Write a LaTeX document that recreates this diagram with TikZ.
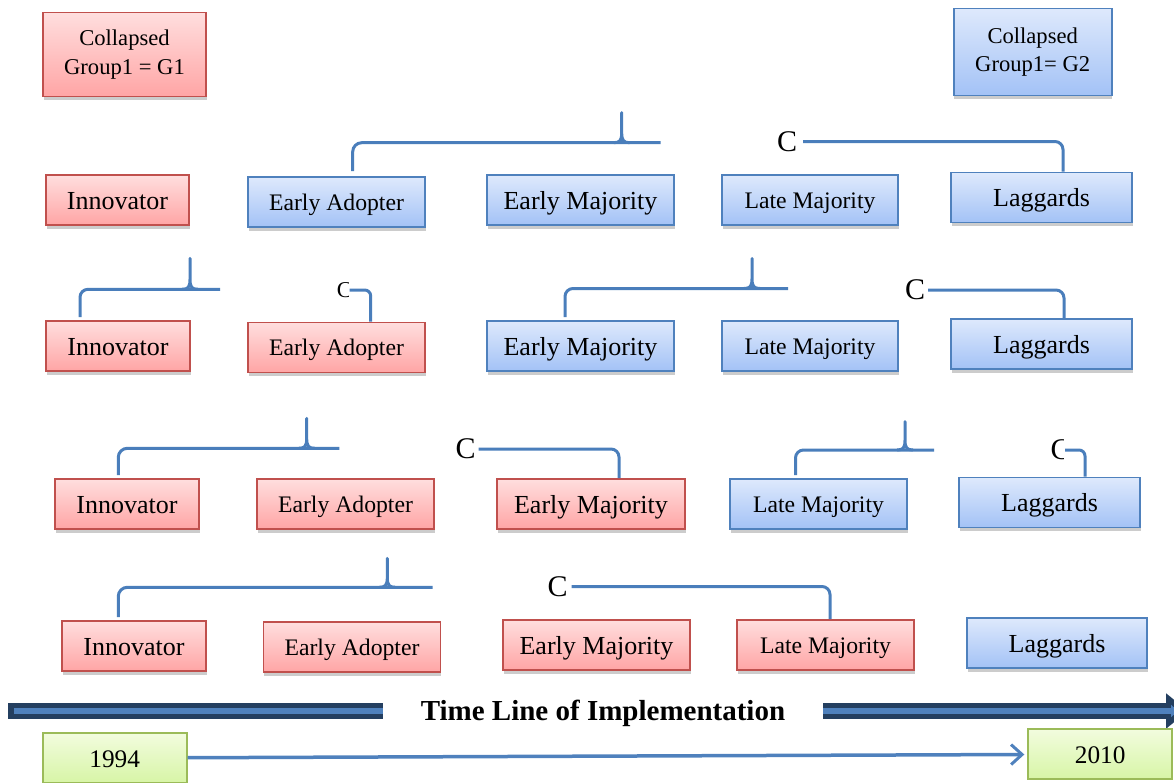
\documentclass[tikz,border=0pt]{standalone}
\usepackage{fontspec}
\setmainfont{Liberation Serif}
\usetikzlibrary{shadows,arrows.meta}

\definecolor{redline}{HTML}{C0504D}
\definecolor{redtop}{RGB}{255,222,222}
\definecolor{redbot}{RGB}{255,165,165}
\definecolor{blueline}{HTML}{4F81BD}
\definecolor{bluetop}{RGB}{222,233,252}
\definecolor{bluebot}{RGB}{163,194,246}
\definecolor{greenline}{HTML}{9BBB59}
\definecolor{greentop}{RGB}{242,252,222}
\definecolor{greenbot}{RGB}{215,245,166}
\definecolor{bracecol}{HTML}{4A7EBB}
\definecolor{bandnavy}{HTML}{243F60}
\definecolor{bandlight}{HTML}{4F81BD}

% type sizes (1pt = 1 unit of the grid)
\newcommand\fsBig{\fontsize{26}{30}\selectfont}
\newcommand\fsMid{\fontsize{23.7}{28}\selectfont}
\newcommand\fsGroup{\fontsize{22.6}{28.5}\selectfont}
\newcommand\fsMark{\fontsize{30}{32}\selectfont}
\newcommand\fsMarkSmall{\fontsize{22.6}{24}\selectfont}
\newcommand\fsTitle{\fontsize{29}{32}\selectfont}
\newcommand\fsYear{\fontsize{25.3}{28}\selectfont}

% upward tip of a horizontal brace: x, bar level, tip level
\newcommand{\bracetip}[3]{%
  \draw[brace] (#1-8,#2) .. controls (#1-2,#2) and (#1,#2-2) .. (#1,#2-10)
    -- (#1,#3) -- (#1,#2-10) .. controls (#1,#2-2) and (#1+2,#2) .. (#1+8,#2);}

\begin{document}
\begin{tikzpicture}[x=1pt,y=-1pt,
  stage/.style={line width=1.8pt, inner sep=0pt, minimum height=50pt,
    general shadow={fill=black!20, shadow xshift=0.5pt, shadow yshift=-3.5pt}},
  adopt/.style={stage, draw=redline, top color=redtop, bottom color=redbot},
  waiting/.style={stage, draw=blueline, top color=bluetop, bottom color=bluebot},
  big/.style={font=\fsBig, text height=23.4pt, text depth=5.2pt},
  mid/.style={font=\fsMid, text height=21.3pt, text depth=4.7pt},
  group/.style={font=\fsGroup, align=center, minimum height=84pt},
  yearbox/.style={line width=1.8pt, inner sep=0pt, minimum height=50pt,
    draw=greenline, top color=greentop, bottom color=greenbot, font=\fsYear,
    text height=23.8pt, text depth=5.1pt},
  brace/.style={draw=bracecol, line width=3pt, line join=round},
  cmark/.style={font=\fsMark, inner sep=0pt},
  yearline/.style={draw=bandlight, line width=3.5pt,
    -{Straight Barb[length=11pt,width=20pt,line width=3pt]}, shorten >=3pt}
]
\useasboundingbox (0,0) rectangle (1174,782);

% collapsed groups
\node[adopt, group, minimum width=163pt] (g1) at (124.5,54.5) {Collapsed\\Group1 = G1};
\node[waiting, group, minimum width=158pt, minimum height=87pt] (g2) at (1032.7,52) {Collapsed\\Group1= G2};

% row 1
\node[adopt, big, minimum width=143pt] (r1inn) at (117.5,200) {Innovator};
\node[waiting, mid, minimum width=177pt] (r1ea) at (336.5,202) {Early Adopter};
\node[waiting, big, minimum width=187pt] (r1em) at (580.5,200) {Early Majority};
\node[waiting, mid, minimum width=176pt] (r1lm) at (810,200) {Late Majority};
\node[waiting, big, minimum width=181pt] (r1lg) at (1041.5,197.5) {Laggards};

% row 2
\node[adopt, big, minimum width=144pt] (r2inn) at (118,346) {Innovator};
\node[adopt, mid, minimum width=177pt] (r2ea) at (336.5,347.5) {Early Adopter};
\node[waiting, big, minimum width=187pt] (r2em) at (580.5,346) {Early Majority};
\node[waiting, mid, minimum width=176pt] (r2lm) at (810,346) {Late Majority};
\node[waiting, big, minimum width=181pt] (r2lg) at (1041.5,344) {Laggards};

% row 3
\node[adopt, big, minimum width=144pt] (r3inn) at (127,504) {Innovator};
\node[adopt, mid, minimum width=177pt] (r3ea) at (345.5,504) {Early Adopter};
\node[adopt, big, minimum width=188pt] (r3em) at (591,504) {Early Majority};
\node[waiting, mid, minimum width=177pt] (r3lm) at (818.5,504) {Late Majority};
\node[waiting, big, minimum width=181pt] (r3lg) at (1049.5,502.5) {Laggards};

% row 4
\node[adopt, big, minimum width=144pt] (r4inn) at (134,646) {Innovator};
\node[adopt, mid, minimum width=177pt] (r4ea) at (352,647) {Early Adopter};
\node[adopt, big, minimum width=187pt] (r4em) at (596.5,645) {Early Majority};
\node[adopt, mid, minimum width=177pt] (r4lm) at (825.5,645) {Late Majority};
\node[waiting, big, minimum width=180pt] (r4lg) at (1057,643) {Laggards};

% ---- braces, row 1
\coordinate (b1) at (352.7,0 |- r1ea.north);
\draw[brace, rounded corners=9pt] ([yshift=5pt]b1) -- (352.7,142.7) -- (660.7,142.7);
\bracetip{621.7}{142.7}{112.7}
\node[cmark] (c1) at (787,141.5) {C};
\draw[brace, rounded corners=8pt] ([xshift=6pt]c1.east) -- (1063,141.5) -- (1063,0 |- r1lg.north);

% ---- braces, row 2
\coordinate (b2a) at (80,0 |- r2inn.north);
\draw[brace, rounded corners=8pt] ([yshift=3pt]b2a) -- (80,289.3) -- (220,289.3);
\bracetip{190}{289.3}{258.3}
\begin{scope}
  \clip (325,270) rectangle (348.5,310);
  \node[cmark, font=\fsMarkSmall] (c2a) at (344.3,290.5) {C};
\end{scope}
\draw[brace, rounded corners=6pt] (349.5,290) -- (370.7,290) -- (370.7,0 |- r2ea.north);

\coordinate (b2b) at (565,0 |- r2em.north);
\draw[brace, rounded corners=8pt] ([yshift=3pt]b2b) -- (565,288.5) -- (788,288.5);
\bracetip{752}{288.5}{258.5}
\node[cmark] (c2b) at (915,290) {C};
\draw[brace, rounded corners=8pt] ([xshift=3pt]c2b.east) -- (1064,290) -- (1064,0 |- r2lg.north);

% ---- braces, row 3
\coordinate (b3a) at (118.3,0 |- r3inn.north);
\draw[brace, rounded corners=9pt] ([yshift=3pt]b3a) -- (118.3,448.3) -- (339.3,448.3);
\bracetip{306.7}{448.3}{418.3}
\node[cmark] (c3a) at (465.5,449) {C};
\draw[brace, rounded corners=8pt] ([xshift=3pt]c3a.east) -- (619,449) -- (619,0 |- r3em.north);

\coordinate (b3b) at (795.5,0 |- r3lm.north);
\draw[brace, rounded corners=8pt] ([yshift=3pt]b3b) -- (795.5,450) -- (934,450);
\bracetip{905}{450}{421.7}
\begin{scope}
  \clip (1040,430) rectangle (1063.5,470);
  \node[cmark] (c3b) at (1060.7,450) {C};
\end{scope}
\draw[brace, rounded corners=6pt] (1065,450) -- (1085,450) -- (1085,0 |- r3lg.north);

% ---- braces, row 4
\coordinate (b4) at (118.3,0 |- r4inn.north);
\draw[brace, rounded corners=9pt] ([yshift=3pt]b4) -- (118.3,587.3) -- (432.7,587.3);
\bracetip{387.3}{587.3}{558.3}
\node[cmark] (c4) at (557.5,586.5) {C};
\draw[brace, rounded corners=8pt] ([xshift=4pt]c4.east) -- (830,586.5) -- (830,0 |- r4lm.north);

% ---- time line
\node[font=\fsTitle\bfseries, inner xsep=38pt, inner ysep=0pt] (tl) at (603,713) {Time Line of Implementation};
\coordinate (tlstart) at (8.3,711);
\coordinate (tltip) at (1188,711);
\coordinate (tlinner) at (14,711);
\coordinate (tlinnertip) at (1178,711);
\draw[draw=bandnavy, line width=16.6pt] (tlstart) -- (tlstart -| tl.west);
\draw[draw=bandlight, line width=6pt] (tlinner) -- (tlinner -| tl.west);
\draw[draw=bandnavy, line width=16.6pt, -{Triangle[width=34pt,length=22pt]}] (tltip -| tl.east) -- (tltip);
\draw[draw=bandlight, line width=6pt, -{Triangle[width=12pt,length=7pt]}] (tlinnertip -| tl.east) -- (tlinnertip);

% ---- years
\node[yearbox, minimum width=144pt] (y94) at (114.7,758) {1994};
\node[yearbox, minimum width=144pt] (y10) at (1100.2,754.2) {2010};
\draw[yearline] (y94) -- (y10);
\end{tikzpicture}
\end{document}
